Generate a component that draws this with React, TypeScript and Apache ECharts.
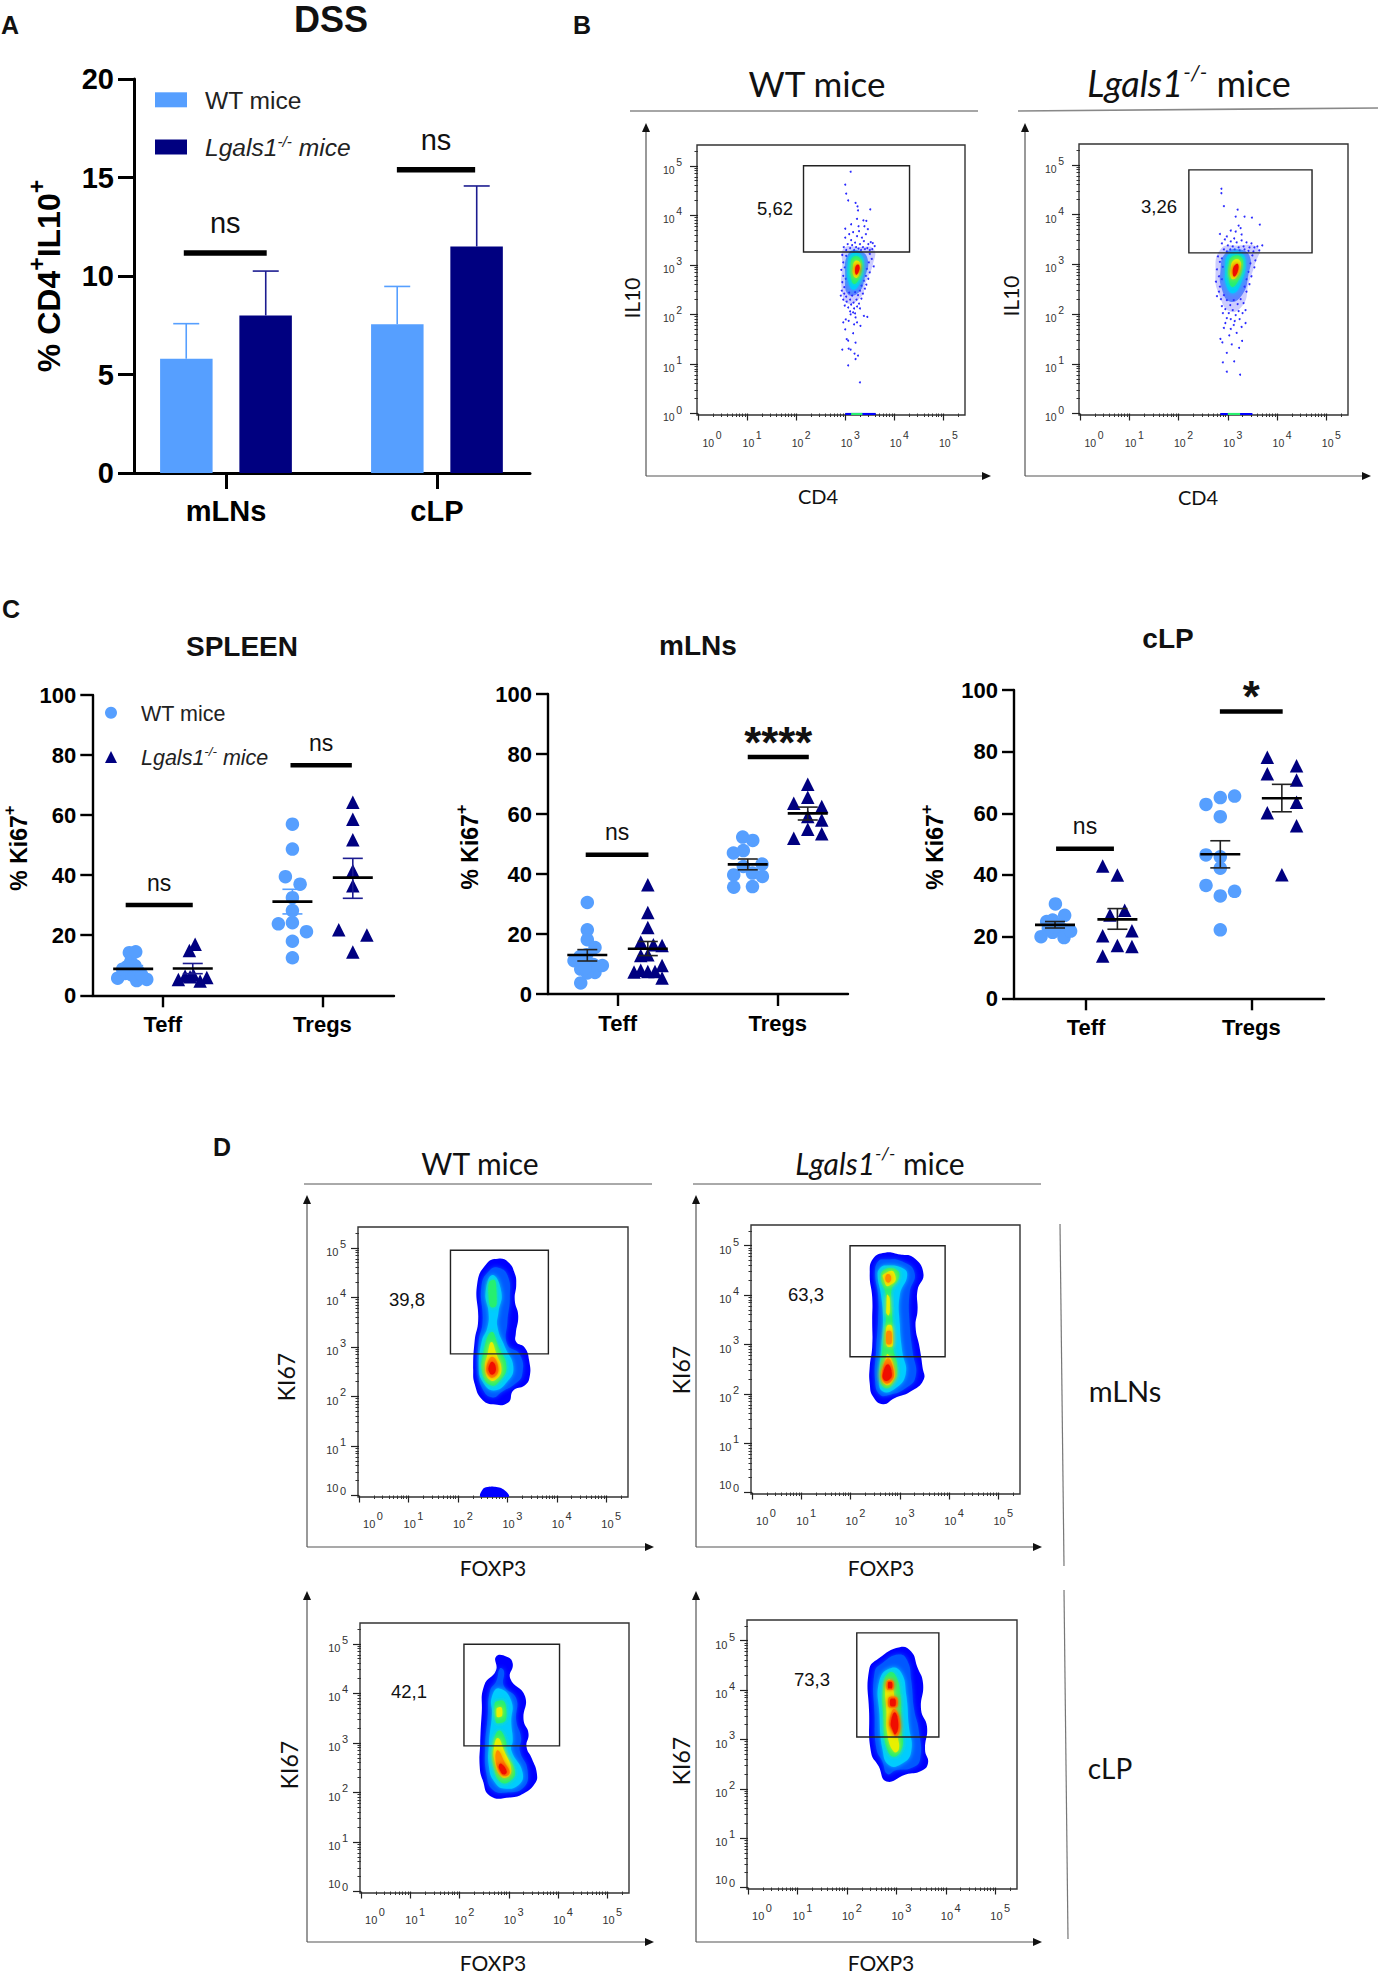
import React, { useEffect, useRef } from "react";
import * as echarts from "echarts";

// ---------- shared text ----------
const WT = "WT mice";
const KO = "Lgals1-/- mice";
const groupsA = ["mLNs", "cLP"];
const groupsC = ["Teff", "Tregs"];
const COL_WT = "#569FFF";
const COL_KO = "#000080";
const BLACK = "#000000";
const ARIAL = "'Liberation Sans', Arial, sans-serif";
const CALIBRI = "Lato, 'Open Sans', sans-serif";

// ---------- panel A ----------
const barWT = [5.8, 7.55];
const barKO = [8.0, 11.5];
const errWT = [7.58, 9.47];
const errKO = [10.25, 14.57];
const sigA = [[0.80, 1.193, 11.17], [1.81, 2.181, 15.39]];
const sigALabels = ["ns", "ns"];

// ---------- panel C: [x position on the axis, value] ----------
const spleenTeffWT = [[0.718,5.7],[0.9,5.3],[0.837,4.9],[0.764,7.3],[0.806,8.4],[0.848,7.9],[0.806,6.8],[0.775,9.5],[0.749,8.7],[0.868,6.8],[0.8,11.2],[0.827,9.8],[0.791,14.2],[0.831,14.5]];
const spleenTeffKO = [[1.203,17],[1.167,14.9],[1.098,5.3],[1.171,6.2],[1.234,4.8],[1.276,5.9],[1.192,6.8],[1.14,6.4]];
const spleenTregWT = [[1.812,57],[1.812,48.7],[1.768,39.5],[1.86,37],[1.812,32.5],[1.812,28.2],[1.724,23.8],[1.812,24.2],[1.9,21.2],[1.812,18],[1.812,12.5]];
const spleenTregKO = [[2.19,64.3],[2.19,58.6],[2.19,51.8],[2.19,41.5],[2.19,36.5],[2.102,21.8],[2.278,20.1],[2.19,14.4]];
const mlnTeffWT = [[0.81,30.5],[0.81,21.4],[0.81,18.1],[0.858,15.5],[0.769,3.7],[0.727,11.1],[0.765,12.5],[0.806,13.1],[0.775,10.3],[0.817,9.8],[0.769,8.3],[0.858,7.2],[0.904,9.5],[0.81,7],[0.848,9.8],[0.796,8.7]];
const mlnTeffKO = [[1.188,36.4],[1.188,27.2],[1.188,22.2],[1.144,17.3],[1.277,16.2],[1.223,16.4],[1.144,12.8],[1.188,13.1],[1.102,7.3],[1.144,7.9],[1.188,7.5],[1.233,7.5],[1.277,9.5],[1.277,5.3]];
const mlnTregWT = [[1.781,52.3],[1.844,51.2],[1.723,47],[1.785,47.8],[1.785,42.5],[1.902,43.3],[1.725,39.7],[1.842,40.3],[1.904,39.2],[1.725,35.6],[1.842,35.8]];
const mlnTregKO = [[2.1875,69.9],[2.1875,65.6],[2.1,63.6],[2.275,62.5],[2.1875,59.2],[2.275,58],[2.1875,54.9],[2.275,53.4],[2.1,51.9]];
const clpTeffWT = [[0.815,30.6],[0.871,26.9],[0.762,24.9],[0.798,25.4],[0.772,22.7],[0.798,21.4],[0.833,23.8],[0.863,22.2],[0.728,20],[0.867,19.7],[0.907,21.8],[0.812,23.2]];
const clpTeffKO = [[1.101,42.9],[1.19,40],[1.234,28.6],[1.145,27],[1.278,21.9],[1.101,20.3],[1.19,17.1],[1.278,16.8],[1.101,13.7]];
const clpTregWT = [[1.899,65.6],[1.8125,65.1],[1.726,62.9],[1.8125,58.9],[1.726,46.5],[1.8125,45.9],[1.8125,42.2],[1.726,36.6],[1.899,34.7],[1.8125,33.2],[1.8125,22.2]];
const clpTregKO = [[2.097,78.2],[2.274,75.4],[2.097,72.8],[2.274,70.8],[2.274,63.6],[2.097,60.2],[2.274,56],[2.185,40.1]];

// [x, mean, low, high]
const spleenStatsWT = [[0.815,8.8,7.8,9.9],[1.812,31.2,27.1,35.3]];
const spleenStatsKO = [[1.188,8.9,7.2,10.6],[2.19,39.2,32.3,45.6]];
const mlnStatsWT = [[0.81,13,11,14.8],[1.8125,43.2,41.4,45]];
const mlnStatsKO = [[1.188,15.1,12.8,17.5],[2.1875,60.2,58,62.3]];
const clpStatsWT = [[0.8125,23.8,22.8,24.9],[1.8125,46.7,42.3,51.1]];
const clpStatsKO = [[1.19,25.6,22.4,29.1],[2.185,64.9,60.5,69.4]];

const sigSpleen = [[0.768,1.188,30.1],[1.8,2.184,76.6]];
const sigSpleenLabels = ["ns","ns"];
const sigMln = [[0.8,1.192,46.4],[1.8125,2.194,79]];
const sigMlnLabels = ["ns","****"];
const sigClp = [[0.819,1.169,48.5],[1.81,2.19,93]];
const sigClpLabels = ["ns","*"];

// ---------- flow plots: decades on log axes; contour = [colour level, points, flat?] ----------
const decades = [0,1,2,3,4,5];
const minorFractions = [0.301,0.477,0.602,0.699,0.778,0.845,0.903,0.954];
const minorTicks = [0,1,2,3,4,5].flatMap((d)=>minorFractions.map((f)=>d+f)).filter((v)=>v<5.42);
const levelColors = ["#0000ff","#0058ff","#00ccff","#28f070","#e8f000","#ff8a00","#f01000","rgba(0,0,255,0.2)","rgba(0,70,255,0.55)"];

const dotsB1 = [[3.11,4.88],[3.0,4.62],[3.02,4.44],[3.06,4.3],[3.21,4.25],[3.25,4.18],[3.26,4.1],[3.51,4.12],[3.24,3.93],[3.37,3.9],[3.43,3.89],[3.27,3.78],[3.0,3.73],[3.12,3.82],[3.39,3.78],[3.46,3.72],
[3.0,3.55],[3.08,3.62],[3.12,3.5],[3.16,3.66],[3.2,3.45],[3.24,3.58],[3.28,3.68],[3.3,3.42],[3.34,3.55],[3.38,3.48],[3.42,3.62],[3.47,3.42],[3.52,3.46],[3.56,3.44],[3.6,3.38],[3.55,3.32],[2.97,3.36],[3.02,3.3],[3.05,3.42],[3.1,3.34],[3.14,3.4],[3.18,3.3],[3.22,3.36],[3.27,3.33],[3.32,3.3],[3.36,3.36],[3.4,3.32],[3.45,3.34],[3.5,3.3],
[2.94,3.2],[2.96,3.05],[2.92,2.9],[2.96,2.78],[2.94,2.65],[2.98,2.55],[3.02,3.18],[3.5,3.22],[3.54,3.12],[3.48,3.05],[3.58,2.97],[3.44,2.92],[3.5,2.85],[3.42,2.78],[3.47,2.72],[3.38,2.68],[3.43,2.6],[3.33,2.58],[3.4,2.52],[2.99,2.95],[3.01,2.72],
[2.93,2.48],[2.98,2.42],[2.91,2.38],[3.02,2.36],[3.08,2.44],[3.14,2.38],[3.2,2.45],[3.26,2.39],[3.3,2.48],[3.36,2.42],[2.96,2.3],[3.03,2.26],[3.1,2.3],[3.17,2.24],[3.23,2.3],[3.28,2.22],[3.33,2.32],[2.99,2.18],[3.06,2.14],[3.12,2.2],[3.18,2.12],[3.24,2.16],[3.3,2.12],[3.1,2.06],[3.2,2.02],
[2.94,1.29],[3.07,1.31],[3.11,1.29],[3.03,1.5],[3.06,1.47],[3.21,1.43],[3.19,1.21],[3.26,1.17],[3.21,1.1],[3.06,0.97],[3.3,0.63],[3.0,1.7],[3.16,1.62],[2.96,1.84],[3.01,1.9],[3.11,2.0],[3.16,2.04],[3.07,1.87],[3.18,1.8],[3.24,1.84],[3.31,1.77],[3.45,1.95],[3.38,1.97],[3.21,1.94]];
const dotsB2 = [[2.87,4.52],[2.87,4.43],[2.92,4.17],[3.2,4.1],[3.16,3.96],[3.34,3.96],[3.49,3.94],[3.65,3.8],[3.26,3.73],[3.16,3.66],[2.84,3.61],[2.98,3.56],[3.13,3.52],[3.7,3.38],[3.28,3.6],[3.22,3.78],[3.06,3.68],
[2.88,3.42],[2.94,3.5],[3.0,3.38],[3.06,3.46],[3.1,3.36],[3.18,3.44],[3.22,3.34],[3.28,3.48],[3.32,3.36],[3.38,3.44],[3.44,3.34],[3.48,3.42],[3.54,3.34],[3.6,3.36],[3.64,3.28],[2.92,3.3],[2.98,3.26],[3.05,3.3],[3.14,3.3],[3.24,3.28],[3.34,3.3],[3.42,3.27],[3.52,3.26],
[2.8,3.16],[2.84,3.05],[2.78,2.9],[2.82,2.76],[2.76,2.65],[2.84,2.55],[2.88,3.12],[2.9,2.95],[2.88,2.7],[3.5,3.18],[3.56,3.08],[3.46,3.02],[3.54,2.94],[3.42,2.85],[3.48,2.76],[3.38,2.7],[3.44,2.6],[3.34,2.55],[3.38,2.45],
[2.82,2.45],[2.78,2.36],[2.86,2.3],[2.92,2.38],[2.98,2.28],[3.05,2.18],[3.12,2.28],[3.2,2.2],[3.26,2.3],[3.32,2.22],[2.88,2.16],[2.95,2.1],[3.02,2.02],[3.1,2.08],[3.16,1.98],[3.22,2.06],[3.3,2.02],[2.9,2.02],[2.98,1.92],[3.06,1.9],[3.14,1.86],[3.24,1.9],[3.36,2.08],
[2.9,1.03],[2.98,0.84],[3.13,1.05],[3.25,0.78],[2.98,1.22],[2.85,1.5],[2.89,1.43],[3.08,1.39],[3.23,1.32],[3.29,1.46],[3.03,1.57],[2.92,1.72],[3.06,1.7],[3.18,1.62],[3.28,1.74],[3.36,1.82],[2.95,1.82],[3.12,1.78]];

const hazeB1: any[] = [
  [7,[[2.97,3.33],[3.3,3.36],[3.58,3.32],[3.56,3.0],[3.42,2.65],[3.32,2.35],[3.05,2.22],[2.93,2.5],[2.94,3.0]]],
  [8,[[3.06,3.22],[3.3,3.28],[3.46,3.1],[3.4,2.75],[3.28,2.45],[3.06,2.4],[3.0,2.75]]],
];
const contoursB1: any[] = [
  [2,[[3.12,3.22],[3.3,3.22],[3.38,3.0],[3.3,2.65],[3.17,2.5],[3.07,2.65],[3.05,2.95]]],
  [3,[[3.16,3.16],[3.3,3.14],[3.34,2.95],[3.26,2.68],[3.17,2.62],[3.12,2.75],[3.11,2.98]]],
  [4,[[3.2,3.08],[3.3,3.05],[3.3,2.88],[3.24,2.74],[3.17,2.78],[3.16,2.95]]],
  [6,[[3.23,3.0],[3.29,2.98],[3.27,2.85],[3.22,2.8],[3.2,2.9]]],
  [0,[[3.0,-0.03],[3.62,-0.03],[3.62,0.012],[3.0,0.012]],true],
  [3,[[3.12,-0.03],[3.35,-0.03],[3.35,0.012],[3.12,0.012]],true],
];
const hazeB2: any[] = [
  [7,[[2.85,3.3],[3.2,3.38],[3.62,3.32],[3.55,3.0],[3.42,2.6],[3.32,2.2],[3.05,2.05],[2.82,2.4],[2.75,2.8]]],
  [8,[[2.95,3.22],[3.25,3.3],[3.45,3.15],[3.42,2.8],[3.3,2.4],[3.05,2.25],[2.88,2.5],[2.85,2.85]]],
];
const contoursB2: any[] = [
  [2,[[3.02,3.2],[3.28,3.22],[3.36,3.0],[3.28,2.65],[3.12,2.42],[2.98,2.55],[2.95,2.9]]],
  [3,[[3.08,3.15],[3.27,3.15],[3.3,2.95],[3.2,2.65],[3.08,2.55],[3.02,2.75],[3.02,2.98]]],
  [4,[[3.12,3.08],[3.24,3.08],[3.26,2.92],[3.16,2.72],[3.07,2.72],[3.06,2.92]]],
  [6,[[3.14,2.98],[3.21,3.0],[3.2,2.85],[3.13,2.75],[3.1,2.85]]],
  [0,[[2.85,-0.03],[3.5,-0.03],[3.5,0.012],[2.85,0.012]],true],
  [3,[[3.0,-0.03],[3.25,-0.03],[3.25,0.012],[3.0,0.012]],true],
];
const contoursD1: any[] = [
  [0,[[2.81,4.78],[3.02,4.71],[3.15,4.48],[3.18,4.27],[3.15,3.94],[3.22,3.63],[3.17,3.26],[3.18,3.1],[3.35,2.99],[3.44,2.73],[3.45,2.39],[3.35,2.22],[3.12,2.12],[3.02,1.88],[2.71,1.84],[2.48,1.95],[2.34,2.25],[2.31,2.52],[2.34,3.13],[2.41,3.53],[2.39,4.27],[2.58,4.68]]],
  [1,[[2.8,4.6],[3.0,4.45],[3.05,4.0],[3.0,3.5],[3.0,3.05],[3.25,2.85],[3.3,2.45],[3.15,2.25],[2.9,2.1],[2.7,1.98],[2.5,2.15],[2.42,2.5],[2.42,3.1],[2.5,3.5],[2.48,4.25],[2.65,4.55]]],
  [2,[[2.7,4.45],[2.88,4.1],[2.82,3.7],[2.8,3.4],[2.95,3.0],[3.12,2.6],[3.0,2.3],[2.72,2.12],[2.5,2.3],[2.43,2.6],[2.48,3.1],[2.6,3.4],[2.62,3.7],[2.56,4.1]]],
  [3,[[2.7,4.35],[2.78,4.1],[2.72,3.8],[2.62,4.05]]],
  [3,[[2.68,3.3],[2.82,3.0],[2.98,2.6],[2.85,2.32],[2.68,2.22],[2.5,2.45],[2.52,2.9]]],
  [4,[[2.68,3.1],[2.78,2.85],[2.88,2.55],[2.78,2.35],[2.65,2.33],[2.55,2.55],[2.6,2.85]]],
  [5,[[2.7,2.8],[2.82,2.55],[2.72,2.38],[2.62,2.42],[2.58,2.6]]],
  [6,[[2.7,2.7],[2.77,2.55],[2.7,2.44],[2.63,2.5],[2.63,2.62]]],
  [0,[[2.47,-0.03],[2.5,0.12],[2.6,0.17],[2.78,0.17],[2.95,0.1],[3.02,-0.03]]],
];
const contoursD2: any[] = [
  [0,[[2.7,4.86],[3.01,4.82],[3.28,4.76],[3.48,4.43],[3.36,4.1],[3.36,3.69],[3.32,3.36],[3.4,2.95],[3.46,2.55],[3.48,2.28],[3.21,2.04],[2.89,1.91],[2.66,1.79],[2.46,1.94],[2.39,2.21],[2.39,2.55],[2.44,2.95],[2.44,3.49],[2.44,3.96],[2.39,4.43],[2.46,4.74]]],
  [1,[[2.7,4.72],[3.05,4.68],[3.3,4.45],[3.2,4.05],[3.2,3.4],[3.26,2.85],[3.32,2.35],[3.1,2.1],[2.8,1.98],[2.6,1.98],[2.5,2.25],[2.52,2.9],[2.56,3.5],[2.56,4],[2.5,4.45],[2.56,4.68]]],
  [2,[[2.72,4.6],[3.05,4.55],[3.15,4.4],[3.0,4.0],[3.0,3.4],[3.05,2.85],[3.12,2.4],[2.9,2.1],[2.65,2.05],[2.58,2.3],[2.62,2.9],[2.66,3.5],[2.62,4],[2.55,4.4],[2.6,4.55]]],
  [3,[[2.7,4.52],[2.95,4.5],[2.98,4.35],[2.83,4.1],[2.85,3.5],[2.85,3.0],[2.95,2.5],[2.85,2.2],[2.7,2.12],[2.6,2.35],[2.65,2.9],[2.72,3.5],[2.72,4.0],[2.62,4.35]]],
  [4,[[2.72,4.45],[2.9,4.42],[2.8,4.2],[2.68,4.3]]],
  [4,[[2.76,4.0],[2.8,3.7],[2.75,3.6],[2.73,3.8]]],
  [4,[[2.79,3.4],[2.86,3.1],[2.8,2.95],[2.72,3.1]]],
  [4,[[2.76,2.8],[2.9,2.45],[2.85,2.25],[2.72,2.18],[2.62,2.35],[2.7,2.65]]],
  [5,[[2.72,4.4],[2.82,4.38],[2.76,4.25]]],
  [5,[[2.78,3.28],[2.84,3.12],[2.78,3.0],[2.72,3.12]]],
  [5,[[2.76,2.72],[2.88,2.42],[2.82,2.25],[2.7,2.22],[2.64,2.4]]],
  [6,[[2.76,2.6],[2.84,2.4],[2.78,2.28],[2.68,2.28],[2.66,2.42]]],
];
const contoursD3: any[] = [
  [0,[[2.74,4.74],[2.96,4.74],[3.08,4.6],[3.03,4.3],[3.33,3.94],[3.3,3.46],[3.4,3.19],[3.36,2.92],[3.47,2.68],[3.57,2.38],[3.53,2.18],[3.3,1.98],[3.03,1.9],[2.62,1.93],[2.47,2.25],[2.41,2.52],[2.42,2.99],[2.45,3.59],[2.5,4.16],[2.74,4.46]]],
  [1,[[2.82,4.5],[2.9,4.45],[2.9,4.15],[3.15,3.9],[3.15,3.45],[3.25,3.1],[3.22,2.85],[3.38,2.45],[3.3,2.1],[2.95,2.0],[2.68,2.05],[2.55,2.35],[2.52,2.9],[2.57,3.5],[2.62,4.05],[2.75,4.25]]],
  [2,[[2.8,4.1],[3.05,3.85],[3.05,3.4],[3.08,3.05],[3.05,2.85],[3.28,2.4],[3.2,2.15],[2.9,2.08],[2.72,2.2],[2.6,2.5],[2.6,3.0],[2.66,3.6],[2.65,3.9]]],
  [3,[[2.8,3.85],[2.95,3.65],[2.82,3.4],[2.72,3.6]]],
  [3,[[2.8,3.25],[2.95,3.0],[2.9,2.85],[3.12,2.45],[3.05,2.25],[2.85,2.2],[2.7,2.5],[2.68,2.9]]],
  [4,[[2.8,3.72],[2.87,3.62],[2.8,3.52],[2.75,3.6]]],
  [4,[[2.78,3.1],[2.9,2.85],[3.05,2.45],[2.95,2.3],[2.82,2.35],[2.72,2.6],[2.7,2.9]]],
  [5,[[2.78,2.85],[2.92,2.6],[3.02,2.4],[2.92,2.33],[2.8,2.45],[2.73,2.7]]],
  [6,[[2.85,2.58],[2.96,2.42],[2.9,2.36],[2.82,2.45],[2.8,2.55]]],
];
const contoursD4: any[] = [
  [0,[[3.07,4.87],[3.3,4.78],[3.42,4.48],[3.54,4.14],[3.5,3.6],[3.62,3.26],[3.58,2.79],[3.64,2.52],[3.5,2.36],[3.19,2.29],[2.8,2.15],[2.64,2.46],[2.49,2.73],[2.45,3.53],[2.45,4.41],[2.64,4.64]]],
  [1,[[3.05,4.72],[3.22,4.6],[3.3,4.2],[3.36,3.6],[3.45,3.2],[3.48,2.6],[3.3,2.42],[3.0,2.38],[2.82,2.3],[2.72,2.55],[2.6,2.8],[2.56,3.5],[2.56,4.35],[2.72,4.55]]],
  [2,[[2.9,4.45],[3.1,4.35],[3.2,3.9],[3.25,3.3],[3.3,2.75],[3.1,2.5],[2.85,2.48],[2.72,2.8],[2.66,3.5],[2.66,4.2]]],
  [3,[[2.85,4.35],[2.98,4.3],[3.08,3.9],[3.1,3.2],[3.12,2.85],[2.95,2.65],[2.8,2.85],[2.74,3.4],[2.74,4.1]]],
  [4,[[2.85,4.22],[2.92,4.1],[2.98,3.6],[3.02,3.1],[3.05,2.8],[2.95,2.75],[2.82,3.1],[2.8,3.6],[2.78,4.05]]],
  [5,[[2.87,4.2],[2.95,4.1],[2.87,4.0],[2.8,4.1]]],
  [5,[[2.93,3.87],[3.03,3.75],[2.93,3.64],[2.83,3.75]]],
  [5,[[2.96,3.62],[3.08,3.3],[3.0,3.05],[2.9,3.2],[2.86,3.35]]],
  [6,[[2.87,4.17],[2.92,4.1],[2.87,4.03],[2.83,4.1]]],
  [6,[[2.93,3.83],[2.99,3.75],[2.93,3.67],[2.87,3.75]]],
  [6,[[2.97,3.55],[3.04,3.3],[2.98,3.1],[2.92,3.2],[2.89,3.35]]],
];
// [x0, x1, y0, y1] in decades
const gateB1 = [2.15,4.31,3.26,5.0];
const gateB2 = [2.21,4.71,3.23,4.9];
const gateD1 = [1.85,3.83,2.86,4.95];
const gateD2 = [1.99,3.92,2.75,5.0];
const gateD3 = [2.09,4.03,2.94,4.99];
const gateD4 = [2.2,3.86,3.05,5.16];

// ---------- layout of the six flow frames ----------
const flowLayouts = [
  { left: 697, top: 145, width: 268, height: 270, contours: contoursB1, haze: hazeB1, dots: dotsB1, gate: gateB1, font: 10.5, yMargin: 15, xMargin: 15, lift: false },
  { left: 1079, top: 144, width: 269, height: 271, contours: contoursB2, haze: hazeB2, dots: dotsB2, gate: gateB2, font: 10.5, yMargin: 15, xMargin: 15, lift: false },
  { left: 358, top: 1227, width: 270, height: 270, contours: contoursD1, haze: null, dots: null, gate: gateD1, font: 11, yMargin: 12, xMargin: 13, lift: true },
  { left: 751, top: 1225, width: 269, height: 269, contours: contoursD2, haze: null, dots: null, gate: gateD2, font: 11, yMargin: 12, xMargin: 13, lift: true },
  { left: 360, top: 1623, width: 269, height: 270, contours: contoursD3, haze: null, dots: null, gate: gateD3, font: 11, yMargin: 12, xMargin: 13, lift: true },
  { left: 747, top: 1620, width: 270, height: 269, contours: contoursD4, haze: null, dots: null, gate: gateD4, font: 11, yMargin: 12, xMargin: 13, lift: true },
];
const flowLogX: [number, number] = [-0.02, 5.44];
const flowLogY: [number, number] = [-0.03, 5.42];

// ---------- helpers ----------
const koRich = (size: number, color = "#222", lh = 26) => ({
  i: { fontFamily: ARIAL, fontStyle: "italic", fontSize: size, color, lineHeight: lh, height: size, verticalAlign: "bottom" },
  s: { fontFamily: ARIAL, fontStyle: "italic", fontSize: size * 0.62, color, lineHeight: lh, height: size * 0.62, verticalAlign: "top" },
  t: { fontFamily: ARIAL, fontSize: size, color, lineHeight: lh, height: size, verticalAlign: "bottom" },
});

function sigSeries(rows: number[][], labels: string[], xi: number, yi: number, thick: number, size: number, gap: number, starGap = gap) {
  return {
    type: "custom", coordinateSystem: "cartesian2d", xAxisIndex: xi, yAxisIndex: yi, silent: true, z: 6,
    data: rows.map((r, i) => [r[0], r[2], i]),
    renderItem: (_: any, api: any) => {
      const r = rows[api.value(2)];
      const lab = labels[api.value(2)];
      const a = api.coord([r[0], r[2]]);
      const b = api.coord([r[1], r[2]]);
      const star = lab.includes("*");
      return {
        type: "group",
        children: [
          { type: "rect", shape: { x: a[0], y: a[1] - thick / 2, width: b[0] - a[0], height: thick }, style: { fill: BLACK } },
          { type: "text", style: { text: lab, x: (a[0] + b[0]) / 2, y: a[1] - (star ? starGap - size * 0.22 : gap), align: "center", verticalAlign: "middle", fontFamily: ARIAL, fontSize: star ? size * 1.9 : size, fontWeight: star ? "bold" : "normal", fill: "#111" } },
        ],
      };
    },
  };
}
function statSeries(rows: number[][], xi: number, yi: number, capColor: string) {
  return {
    type: "custom", coordinateSystem: "cartesian2d", xAxisIndex: xi, yAxisIndex: yi, silent: true, z: 7,
    data: rows.map((r) => [r[0], r[1], r[2], r[3]]),
    renderItem: (_: any, api: any) => {
      const x = api.value(0);
      const m = api.coord([x, api.value(1)]);
      const lo = api.coord([x, api.value(2)]);
      const hi = api.coord([x, api.value(3)]);
      const cap = { stroke: capColor, lineWidth: 1.6 };
      return {
        type: "group",
        children: [
          { type: "line", shape: { x1: m[0], y1: lo[1], x2: m[0], y2: hi[1] }, style: cap },
          { type: "line", shape: { x1: m[0] - 10, y1: lo[1], x2: m[0] + 10, y2: lo[1] }, style: cap },
          { type: "line", shape: { x1: m[0] - 10, y1: hi[1], x2: m[0] + 10, y2: hi[1] }, style: cap },
          { type: "line", shape: { x1: m[0] - 20, y1: m[1], x2: m[0] + 20, y2: m[1] }, style: { stroke: BLACK, lineWidth: 2.6 } },
        ],
      };
    },
  };
}
function scatter(name: string, data: number[][], xi: number, yi: number) {
  const isWT = name === WT;
  return {
    type: "scatter", name, data, xAxisIndex: xi, yAxisIndex: yi, z: 5, silent: true,
    symbol: isWT ? "circle" : "triangle", symbolSize: isWT ? 13.5 : 13.5,
    itemStyle: { color: isWT ? COL_WT : COL_KO, opacity: 1 },
  };
}
function errorSeries(tops: number[], values: number[], offset: number, color: string) {
  return {
    type: "custom", coordinateSystem: "cartesian2d", xAxisIndex: 0, yAxisIndex: 0, silent: true, z: 1,
    data: values.map((v, i) => [i + 1, v, tops[i]]),
    renderItem: (_: any, api: any) => {
      const a = api.coord([api.value(0), api.value(1)]);
      const b = api.coord([api.value(0), api.value(2)]);
      const st = { stroke: color, lineWidth: 1.6 };
      return {
        type: "group",
        children: [
          { type: "line", shape: { x1: a[0] + offset, y1: a[1], x2: a[0] + offset, y2: b[1] }, style: st },
          { type: "line", shape: { x1: a[0] + offset - 13, y1: b[1], x2: a[0] + offset + 13, y2: b[1] }, style: st },
        ],
      };
    },
  };
}
function contourSeries(contours: any[], xi: number, yi: number, z = 3) {
  return {
    type: "custom", coordinateSystem: "cartesian2d", xAxisIndex: xi, yAxisIndex: yi, silent: true, z, clip: true,
    data: contours.map((_, i) => [i, 0]),
    renderItem: (_: any, api: any) => {
      const c = contours[api.value(0)];
      const color = levelColors[c[0]];
      const flat = !!c[2];
      const pts = c[1].map((p: number[]) => api.coord(p));
      const blur = !flat && c[0] >= 1 && c[0] <= 6;
      return {
        type: "polygon",
        shape: { points: pts, smooth: flat ? 0 : pts.length > 4 ? 0.5 : 0.9 },
        style: { fill: color, shadowBlur: blur ? 5 : 0, shadowColor: blur ? color : "transparent" },
      };
    },
  };
}
function gateSeries(g: number[], xi: number, yi: number) {
  return {
    type: "custom", coordinateSystem: "cartesian2d", xAxisIndex: xi, yAxisIndex: yi, silent: true, z: 4,
    data: [[g[0], g[2], g[1], g[3]]],
    renderItem: (_: any, api: any) => {
      const a = api.coord([api.value(0), api.value(1)]);
      const b = api.coord([api.value(2), api.value(3)]);
      return { type: "rect", shape: { x: a[0], y: b[1], width: b[0] - a[0], height: a[1] - b[1] }, style: { fill: "none", stroke: "#222", lineWidth: 1.4 } };
    },
  };
}

function txt(text: string, x: number, y: number, size: number, o: any = {}) {
  return {
    type: "text", x, y, rotation: o.rot || 0, z: 20, silent: true,
    style: {
      text, x: 0, y: 0, align: "center", verticalAlign: "middle",
      fontFamily: o.font || ARIAL, fontSize: size, fontWeight: o.weight || "normal", fill: o.fill || "#111",
      rich: o.rich,
    },
  };
}
const line = (x1: number, y1: number, x2: number, y2: number, stroke = "#555", w = 1.2) => ({
  type: "line", z: 20, silent: true, shape: { x1, y1, x2, y2 }, style: { stroke, lineWidth: w },
});
function flowAxes(x: number, yTop: number, yBottom: number, xRight: number) {
  return [
    line(x, yTop, x, yBottom),
    line(x, yBottom, xRight, yBottom),
    { type: "polygon", z: 20, silent: true, shape: { points: [[x, yTop - 9], [x - 4, yTop], [x + 4, yTop]] }, style: { fill: "#111" } },
    { type: "polygon", z: 20, silent: true, shape: { points: [[xRight + 9, yBottom], [xRight, yBottom - 4], [xRight, yBottom + 4]] }, style: { fill: "#111" } },
  ];
}
const titleRich = (size: number) => ({
  i: { fontFamily: CALIBRI, fontStyle: "italic", fontSize: size, color: "#111", lineHeight: size * 1.12, height: size, verticalAlign: "bottom" },
  s: { fontFamily: CALIBRI, fontStyle: "italic", fontSize: size * 0.6, color: "#111", lineHeight: size * 1.12, height: size * 0.6, verticalAlign: "top" },
  t: { fontFamily: CALIBRI, fontSize: size, color: "#111", lineHeight: size * 1.12, height: size, verticalAlign: "bottom" },
});
const koTitle = "{i|Lgals1}{s|-/-}{t| mice}";

const graphics: any[] = [
  txt("DSS", 331, 19, 36, { weight: "bold" }),
  txt("A", 10, 25, 25, { weight: "bold" }),
  txt("B", 582, 25, 25, { weight: "bold" }),
  txt("C", 11, 609, 25, { weight: "bold" }),
  txt("D", 222, 1147, 25, { weight: "bold" }),
  txt("SPLEEN", 242, 646, 28, { weight: "bold" }),
  txt("mLNs", 698, 645, 28, { weight: "bold" }),
  txt("cLP", 1168, 638, 28, { weight: "bold" }),
  // B
  txt(WT, 817, 83, 35, { font: CALIBRI }),
  txt(koTitle, 1189, 81, 36, { rich: titleRich(36) }),
  line(630, 111, 978, 111, "#888", 1.6),
  line(1018, 111, 1378, 108, "#888", 1.6),
  ...flowAxes(646, 132, 476, 982),
  ...flowAxes(1025, 132, 476, 1362),
  txt("IL10", 631, 298, 21, { font: CALIBRI, rot: Math.PI / 2 }),
  txt("IL10", 1010, 296, 21, { font: CALIBRI, rot: Math.PI / 2 }),
  txt("CD4", 818, 496, 20, { font: CALIBRI }),
  txt("CD4", 1198, 497, 20, { font: CALIBRI }),
  txt("5,62", 775, 208, 18.5),
  txt("3,26", 1159, 206, 18.5),
  // D
  txt(WT, 480, 1163, 30, { font: CALIBRI }),
  txt(koTitle, 880, 1161, 30, { rich: titleRich(30) }),
  line(304, 1184, 652, 1184, "#555", 1),
  line(693, 1184, 1041, 1184, "#555", 1),
  ...flowAxes(307, 1204, 1547, 645),
  ...flowAxes(696, 1204, 1547, 1033),
  ...flowAxes(307, 1600, 1942, 645),
  ...flowAxes(696, 1600, 1942, 1033),
  txt("KI67", 286, 1377, 23, { font: CALIBRI, rot: Math.PI / 2 }),
  txt("KI67", 681, 1370, 23, { font: CALIBRI, rot: Math.PI / 2 }),
  txt("KI67", 289, 1765, 23, { font: CALIBRI, rot: Math.PI / 2 }),
  txt("KI67", 681, 1761, 23, { font: CALIBRI, rot: Math.PI / 2 }),
  txt("FOXP3", 493, 1567, 21, { font: CALIBRI }),
  txt("FOXP3", 881, 1567, 21, { font: CALIBRI }),
  txt("FOXP3", 493, 1962, 21, { font: CALIBRI }),
  txt("FOXP3", 881, 1962, 21, { font: CALIBRI }),
  txt("39,8", 407, 1299, 18.5),
  txt("63,3", 806, 1294, 18.5),
  txt("42,1", 409, 1691, 18.5),
  txt("73,3", 812, 1679, 18.5),
  txt("mLNs", 1125, 1390, 29, { font: CALIBRI }),
  txt("cLP", 1110, 1768, 28, { font: CALIBRI }),
  line(1060, 1224, 1064, 1566, "#777", 1.2),
  line(1064, 1590, 1068, 1939, "#777", 1.2),
];

// ---------- cartesian grids ----------
function statAxisX(gridIndex: number, min: number, max: number, cats: string[], font: number, tickLen: number, w: number, margin: number) {
  return {
    type: "value", gridIndex, min, max, position: "bottom",
    splitLine: { show: false },
    axisLine: { show: true, onZero: false, lineStyle: { color: BLACK, width: w } },
    axisTick: { show: true, customValues: [1, 2], length: tickLen, lineStyle: { color: BLACK, width: w } },
    axisLabel: { show: true, customValues: [1, 2], formatter: (v: number) => cats[Math.round(v) - 1], fontFamily: ARIAL, fontSize: font, fontWeight: "bold", color: BLACK, margin },
  };
}
function statAxisY(gridIndex: number, max: number, interval: number, font: number, tickLen: number, w: number, name: string, gap: number, nameFont: number, margin: number, shift: number) {
  const lh = nameFont * 1.1;
  return {
    type: "value", gridIndex, min: 0, max, interval, position: "left",
    splitLine: { show: false },
    axisLine: { show: true, onZero: false, lineStyle: { color: BLACK, width: w } },
    axisTick: { show: true, length: tickLen, lineStyle: { color: BLACK, width: w } },
    axisLabel: { fontFamily: ARIAL, fontSize: font, fontWeight: "bold", color: BLACK, margin },
    name, nameLocation: "middle", nameGap: gap, nameRotate: 90,
    nameTextStyle: {
      padding: [0, shift, 0, 0],
      rich: {
        a: { fontFamily: ARIAL, fontWeight: "bold", fontSize: nameFont, color: BLACK, lineHeight: lh, height: nameFont * 0.85, verticalAlign: "bottom" },
        s: { fontFamily: ARIAL, fontWeight: "bold", fontSize: nameFont * 0.72, color: BLACK, lineHeight: lh, height: nameFont * 0.6, verticalAlign: "top" },
      },
    },
  };
}
const supRich = (font: number, extra: any) => {
  const lh = font * 1.75;
  return {
    b: { fontFamily: ARIAL, fontSize: font, color: "#333", lineHeight: lh, height: font, verticalAlign: "bottom", ...extra },
    z: { fontFamily: ARIAL, fontSize: font, color: "#333", lineHeight: lh, height: font, verticalAlign: "bottom", ...extra, padding: extra.padding ? [0, 0, 0, 28] : [0, 0, 12, 0] },
    s: { fontFamily: ARIAL, fontSize: font, color: "#333", lineHeight: lh, height: font, verticalAlign: "top", padding: [0, 0, 0, 1.5] },
  };
};

const grids: any[] = [
  { outerBoundsMode: "none", left: 134, top: 79, width: 396, height: 394 },
  { outerBoundsMode: "none", left: 92.3, top: 695, width: 301.7, height: 300.3 },
  { outerBoundsMode: "none", left: 548, top: 694, width: 300, height: 300 },
  { outerBoundsMode: "none", left: 1014, top: 690, width: 310, height: 308.3 },
];
const xAxes: any[] = [
  statAxisX(0, 0.564, 2.441, groupsA, 29, 16, 3, 23),
  statAxisX(1, 0.559, 2.448, groupsC, 22, 12, 2.4, 18),
  statAxisX(2, 0.5644, 2.439, groupsC, 22, 12, 2.4, 18),
  statAxisX(3, 0.5644, 2.44, groupsC, 22, 12, 2.4, 18),
];
const yAxes: any[] = [
  statAxisY(0, 20, 5, 29, 16, 3, "{a|% CD4}{s|+}{a|IL10}{s|+}", 71, 32, 20, 0),
  statAxisY(1, 100, 20, 22, 12, 2.4, "{a|% Ki67}{s|+}", 64, 23, 16, 6),
  statAxisY(2, 100, 20, 22, 12, 2.4, "{a|% Ki67}{s|+}", 68, 23, 16, 6),
  statAxisY(3, 100, 20, 22, 12, 2.4, "{a|% Ki67}{s|+}", 69, 23, 16, 6),
];

const flowSeries: any[] = [];
flowLayouts.forEach((f, i) => {
  const gi = grids.length;
  grids.push({ outerBoundsMode: "none", show: true, left: f.left, top: f.top, width: f.width, height: f.height, borderColor: "#333", borderWidth: 1.4, backgroundColor: "transparent" });
  const xMajor = xAxes.length;
  const yMajor = yAxes.length;
  const common = { type: "value", gridIndex: gi, splitLine: { show: false }, axisLine: { show: false } };
  xAxes.push({
    ...common, min: flowLogX[0], max: flowLogX[1], position: "bottom",
    axisTick: { show: true, customValues: decades, length: 7, lineStyle: { color: "#222", width: 1.2 } },
    axisLabel: { show: true, customValues: decades, margin: f.xMargin, hideOverlap: false, formatter: (v: number) => `{${v === 0 ? "z" : "b"}|10}{s|${v}}`, rich: supRich(f.font, { padding: [0, 0, 0, 10] }) },
  });
  xAxes.push({
    ...common, min: flowLogX[0], max: flowLogX[1], position: "bottom",
    axisTick: { show: true, customValues: minorTicks, length: 3.5, lineStyle: { color: "#333", width: 1 } },
    axisLabel: { show: false },
  });
  yAxes.push({
    ...common, min: flowLogY[0], max: flowLogY[1], position: "left",
    axisTick: { show: true, customValues: decades, length: 8, lineStyle: { color: "#222", width: 1.2 } },
    axisLabel: { show: true, customValues: decades, margin: f.yMargin, hideOverlap: false, formatter: (v: number) => `{${v === 0 && f.lift ? "z" : "b"}|10}{s|${v}}`, rich: supRich(f.font, {}) },
  });
  yAxes.push({
    ...common, min: flowLogY[0], max: flowLogY[1], position: "left",
    axisTick: { show: true, customValues: minorTicks, length: 3.5, lineStyle: { color: "#333", width: 1 } },
    axisLabel: { show: false },
  });
  if (f.haze) flowSeries.push(contourSeries(f.haze, xMajor, yMajor, 1));
  if (f.dots) {
    flowSeries.push({
      type: "scatter", name: `dots${i}`, data: f.dots, xAxisIndex: xMajor, yAxisIndex: yMajor, silent: true, z: 2,
      symbol: "circle", symbolSize: 2, itemStyle: { color: "#2a2aff", opacity: 1 },
    });
  }
  flowSeries.push(contourSeries(f.contours, xMajor, yMajor));
  flowSeries.push(gateSeries(f.gate, xMajor, yMajor));
});

const option: any = {
  animation: false,
  backgroundColor: "#ffffff",
  textStyle: { fontFamily: ARIAL },
  grid: grids,
  xAxis: xAxes,
  yAxis: yAxes,
  graphic: graphics,
  legend: [
    {
      left: 150, top: 83, orient: "vertical", itemWidth: 32, itemHeight: 15, itemGap: 21, selectedMode: false,
      data: [{ name: WT, icon: "rect" }, { name: KO, icon: "rect" }],
      formatter: (n: string) => (n === WT ? "{p|}{t|WT mice}" : "{p|}{i|Lgals1}{s|-/-}{i| mice}"),
      textStyle: { rich: { ...koRich(24.6, "#222"), p: { width: 13 } } },
    },
    {
      left: 100, top: 698, orient: "vertical", itemWidth: 12, itemHeight: 12, itemGap: 20, selectedMode: false,
      data: [{ name: WT, icon: "circle" }, { name: KO, icon: "triangle" }],
      formatter: (n: string) => (n === WT ? "{p|}{t|WT mice}" : "{p|}{i|Lgals1}{s|-/-}{i| mice}"),
      textStyle: { rich: { ...koRich(21.5, "#222", 24), p: { width: 19 } } },
    },
  ],
  series: [
    { type: "bar", name: WT, xAxisIndex: 0, yAxisIndex: 0, data: barWT.map((v, i) => [i + 1, v]), barWidth: 52.5, barGap: "51%", itemStyle: { color: COL_WT }, silent: true, z: 2 },
    { type: "bar", name: KO, xAxisIndex: 0, yAxisIndex: 0, data: barKO.map((v, i) => [i + 1, v]), barWidth: 52.5, barGap: "51%", itemStyle: { color: COL_KO }, silent: true, z: 2 },
    errorSeries(errWT, barWT, -39.75, COL_WT),
    errorSeries(errKO, barKO, 39.75, "#1c1c90"),
    sigSeries(sigA, sigALabels, 0, 0, 5.5, 29, 30),

    scatter(WT, [...spleenTeffWT, ...spleenTregWT], 1, 1),
    scatter(KO, [...spleenTeffKO, ...spleenTregKO], 1, 1),
    statSeries(spleenStatsWT, 1, 1, COL_WT),
    statSeries(spleenStatsKO, 1, 1, "#1c1c90"),
    sigSeries(sigSpleen, sigSpleenLabels, 1, 1, 4.5, 23, 22),

    scatter(WT, [...mlnTeffWT, ...mlnTregWT], 2, 2),
    scatter(KO, [...mlnTeffKO, ...mlnTregKO], 2, 2),
    statSeries(mlnStatsWT, 2, 2, "#222"),
    statSeries(mlnStatsKO, 2, 2, "#222"),
    sigSeries(sigMln, sigMlnLabels, 2, 2, 4.5, 23, 23, 19.5),

    scatter(WT, [...clpTeffWT, ...clpTregWT], 3, 3),
    scatter(KO, [...clpTeffKO, ...clpTregKO], 3, 3),
    statSeries(clpStatsWT, 3, 3, "#222"),
    statSeries(clpStatsKO, 3, 3, "#222"),
    sigSeries(sigClp, sigClpLabels, 3, 3, 4.5, 23, 23, 20),

    ...flowSeries,
  ],
};

export default function App() {
  const ref = useRef<HTMLDivElement>(null);
  useEffect(() => {
    if (!ref.current) return;
    const chart = echarts.init(ref.current, undefined, { renderer: "svg" });
    chart.setOption(option);
    return () => chart.dispose();
  }, []);
  return <div ref={ref} style={{ position: "absolute", left: 0, top: 0, width: 1378, height: 1974 }} />;
}
